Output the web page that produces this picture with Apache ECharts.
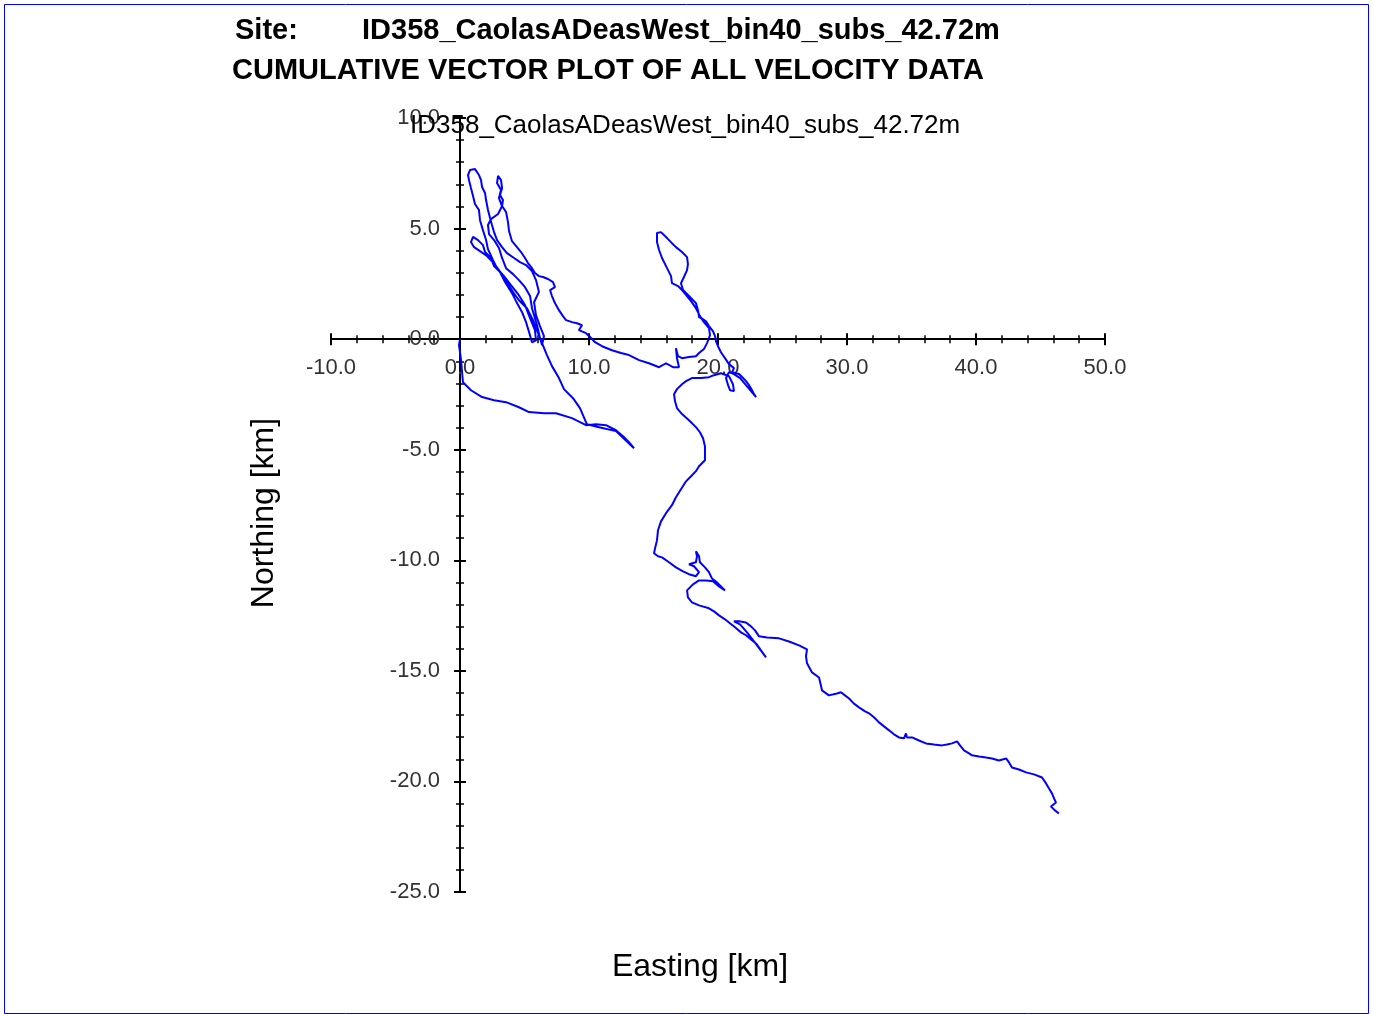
<!DOCTYPE html>
<html>
<head>
<meta charset="utf-8">
<script src="https://cdn.jsdelivr.net/npm/echarts@6/dist/echarts.min.js"></script>
<style>
html,body{margin:0;padding:0;background:#fff;}
#chart{width:1374px;height:1014px;}
</style>
</head>
<body>
<div id="chart"></div>
<script>
// ---- Text ----
const siteLabel = 'Site:';
const siteName = 'ID358_CaolasADeasWest_bin40_subs_42.72m';
const plotTitle = 'CUMULATIVE VECTOR PLOT OF ALL VELOCITY DATA';
const xAxisName = 'Easting [km]';
const yAxisName = 'Northing [km]';

// ---- Axis ranges / ticks (km) ----
const xRange = [-10, 50], xStep = 10;
const yRange = [-25, 10], yStep = 5;

// ---- Cumulative track, [easting km, northing km], in time order ----
const trackLeg1 = [[0,0],[-0.08,-0.27],[0,-0.59],[0.08,-0.95],[0.16,-1.49],[0.23,-1.95],[0.85,-2.31],[1.71,-2.62],[2.64,-2.76],[3.57,-2.85],[4.57,-3.08],[5.35,-3.30],[6.51,-3.35],[7.44,-3.35],[8.68,-3.57],[9.77,-3.89],[10.54,-3.85],[11.32,-3.89],[12.09,-4.12],[12.64,-4.39],[13.10,-4.66],[13.49,-4.93]];
const trackLeg2 = [[12.09,-4.16],[10.78,-3.98],[9.84,-3.85],[9.30,-3.12],[8.76,-2.67],[8.06,-2.26],[7.67,-1.76],[7.13,-1.22],[6.74,-0.72],[6.36,-0.18],[6.05,0.27],[5.66,0.86],[5.19,1.40],[4.57,1.76],[4.11,2.13],[3.57,2.62],[3.02,3.12],[2.56,3.48],[2.09,3.76],[1.55,3.98],[1.09,4.16],[0.85,4.39],[1.01,4.62]];
const trackLeg3 = [[1.40,4.48],[1.78,4.25],[1.94,3.94],[2.40,3.67],[2.64,3.30],[3.10,3.03],[3.49,2.58],[4.03,2.08],[4.42,1.63],[4.81,1.22],[5.12,0.77],[5.35,0.32],[5.58,-0.14]];
const trackLeg4 = [[5.89,-0.05],[5.81,0.41],[5.43,0.95],[5.04,1.54],[4.50,2.04],[3.95,2.44],[3.41,2.85],[2.87,3.21],[2.56,3.57],[2.17,4.07],[2.02,4.48],[1.78,4.93],[1.55,5.38],[1.47,5.84],[1.16,6.11],[1.01,6.47],[0.85,6.83],[0.70,7.19],[0.62,7.42],[0.78,7.65]];
const trackLeg5 = [[1.16,7.69],[1.47,7.42],[1.63,7.19],[1.71,6.88],[1.94,6.61],[2.02,6.29],[2.17,5.84],[2.33,5.48],[2.48,5.16],[2.64,4.84],[2.87,4.48],[3.26,4.16],[3.64,3.89],[4.19,3.67],[4.65,3.48],[5.12,3.35],[5.58,3.08],[5.89,2.67],[6.12,2.13],[5.74,1.67],[5.89,1.09],[6.20,0.59],[6.51,0.14],[6.36,-0.27]];
const trackLeg6 = [[6.20,0.05],[5.97,0.63],[5.58,1.40],[5.43,1.95],[5.04,2.35],[4.57,2.67],[4.11,2.94],[3.57,3.21],[3.26,3.67],[3.02,4.12],[2.64,4.48],[2.25,4.75],[2.17,5.16],[2.40,5.43],[2.95,5.66],[3.26,6.02],[3.02,6.38],[3.18,6.74],[2.87,7.06],[2.95,7.38]];
const trackLeg7 = [[3.18,7.19],[3.26,6.83],[3.10,6.52],[3.33,6.29],[3.26,6.02],[3.57,5.75],[3.72,5.29],[3.80,4.89],[4.03,4.43],[4.42,4.16],[4.73,3.94],[5.04,3.67],[5.27,3.44],[5.58,3.21],[5.81,2.99],[6.12,2.85],[6.43,2.81],[6.82,2.72],[7.21,2.58],[7.36,2.35],[6.98,2.22],[7.13,1.95],[7.36,1.63],[7.67,1.31],[7.98,1.04],[8.22,0.86],[8.68,0.77],[9.07,0.72],[9.46,0.63],[9.22,0.41],[9.77,0.27],[10.16,0.05],[10.47,-0.14],[11.01,-0.32],[11.78,-0.50],[12.48,-0.63],[13.10,-0.72],[13.88,-0.95],[14.65,-1.09],[15.43,-1.27],[15.97,-1.09],[16.51,-1.27],[16.98,-1.27],[16.82,-0.86],[16.74,-0.41],[16.90,-0.77],[17.21,-0.86],[17.75,-0.81],[18.29,-0.77],[18.53,-0.63],[18.91,-0.45],[19.15,-0.18],[19.38,0.18],[19.30,0.50],[18.91,0.77],[18.60,1.04],[18.29,1.40],[17.91,1.72],[17.60,1.95],[17.21,2.22],[16.90,2.40],[16.43,2.53],[16.36,2.85],[16.05,3.21],[15.66,3.67],[15.43,4.03],[15.27,4.39],[15.27,4.80],[15.58,4.84],[16.05,4.57],[16.43,4.34],[16.74,4.16],[17.21,3.94],[17.60,3.71],[17.67,3.39],[17.60,3.12],[17.36,2.81],[17.13,2.53],[17.29,2.22],[17.75,1.95],[18.29,1.63],[18.45,1.31],[18.53,1.00],[18.84,0.90],[19.07,0.81],[19.30,0.59],[19.61,0.36],[19.77,0.14],[19.84,-0.09],[20.00,-0.32],[20.23,-0.59],[20.54,-0.86],[20.85,-1.13],[21.24,-1.31],[21.09,-1.49],[21.63,-1.58],[21.94,-1.76],[22.17,-1.90],[22.40,-2.08],[22.64,-2.31],[22.79,-2.49],[22.95,-2.62]];
const trackLeg8 = [[22.56,-2.35],[22.17,-2.08],[21.71,-1.76],[21.24,-1.58],[20.85,-1.49],[20.62,-1.76],[20.78,-2.08],[20.93,-2.31],[21.24,-2.35],[21.16,-2.04],[20.85,-1.67],[20.23,-1.54],[19.69,-1.63],[19.30,-1.72],[18.68,-1.76],[17.98,-1.76],[17.52,-1.90],[17.21,-2.04],[16.82,-2.26],[16.59,-2.49],[16.67,-2.81],[16.82,-3.12],[17.21,-3.39],[17.75,-3.67],[18.29,-3.98],[18.60,-4.21],[18.84,-4.48],[18.99,-4.84],[18.99,-5.25],[18.99,-5.48],[18.53,-5.75],[18.29,-5.97],[17.91,-6.20],[17.52,-6.43],[17.13,-6.79],[16.74,-7.15],[16.43,-7.51],[15.97,-7.87],[15.58,-8.24],[15.35,-8.64],[15.27,-9.10],[15.12,-9.46],[15.04,-9.68],[15.35,-9.82],[15.66,-9.87],[16.20,-10.09],[16.74,-10.32],[17.29,-10.50],[17.75,-10.63],[18.29,-10.72],[18.53,-10.54],[18.14,-10.27],[17.75,-10.18],[18.29,-10.09],[18.37,-9.82],[18.29,-9.59],[18.53,-9.82],[18.60,-10.09],[18.99,-10.32],[19.30,-10.54],[19.53,-10.82],[19.92,-11.00],[20.23,-11.18],[20.54,-11.36]];
const trackLeg9 = [[20.08,-11.18],[19.61,-10.95],[19.07,-10.91],[18.53,-10.91],[18.06,-11.09],[17.60,-11.36],[17.67,-11.68],[17.98,-11.90],[18.53,-12.04],[19.30,-12.17],[19.69,-12.31],[20.08,-12.49],[20.54,-12.67],[20.85,-12.81],[21.32,-13.03],[21.78,-13.26],[22.17,-13.39],[22.56,-13.58],[22.95,-13.76],[23.33,-14.07],[23.72,-14.39]];
const trackLeg10 = [[23.26,-14.03],[22.79,-13.67],[22.25,-13.26],[21.71,-12.90],[21.24,-12.76],[21.63,-12.76],[22.17,-12.81],[22.56,-12.99],[22.87,-13.17],[23.18,-13.44],[23.80,-13.49],[24.73,-13.53],[25.50,-13.67],[26.28,-13.85],[26.90,-14.03],[26.82,-14.34],[26.90,-14.66],[27.29,-15.07],[27.83,-15.30],[27.98,-15.66],[28.06,-15.88],[28.60,-16.11],[29.22,-16.02],[29.53,-15.97],[29.84,-16.11],[30.16,-16.25],[30.54,-16.48],[30.93,-16.65],[31.40,-16.83],[31.71,-16.92],[32.09,-17.10],[32.48,-17.33],[32.87,-17.51],[33.26,-17.69],[33.64,-17.87],[34.03,-18.01],[34.42,-18.05],[34.57,-17.83],[34.65,-18.01],[35.04,-18.01],[35.58,-18.15],[36.12,-18.28],[36.74,-18.33],[37.36,-18.37],[37.75,-18.33],[38.14,-18.28],[38.53,-18.19],[38.76,-18.37],[39.07,-18.60],[39.46,-18.73],[39.69,-18.82],[40.23,-18.87],[40.78,-18.92],[41.24,-18.96],[41.78,-19.05],[42.33,-18.96],[42.56,-19.14],[42.79,-19.37],[43.33,-19.46],[43.88,-19.59],[44.50,-19.68],[45.12,-19.82],[45.43,-20.09],[45.66,-20.32],[45.89,-20.54],[46.05,-20.77],[46.20,-20.95],[45.81,-21.13],[46.12,-21.31],[46.43,-21.45]];

const track = [].concat(trackLeg1, trackLeg2, trackLeg3, trackLeg4, trackLeg5, trackLeg6, trackLeg7, trackLeg8, trackLeg9, trackLeg10);

// ---- Layout ----
const GRID = {left:331, top:118, width:774, height:774};
// pixel offset that places each axis on the other axis' zero
const xAxisShift = -GRID.height * (0 - yRange[0]) / (yRange[1] - yRange[0]);
const yAxisShift = -GRID.width * (0 - xRange[0]) / (xRange[1] - xRange[0]);

const FONT = '"Liberation Sans", Arial, sans-serif';
const fmt = v => v.toFixed(1);
const tickLine = {color:'#000', width:2};
const minorLine = {color:'#000', width:1.5};

function makeAxis(range, step, inside, showLabel, pos, shift) {
  return {
    type:'value', min:range[0], max:range[1], interval:step, position:pos, offset:shift,
    axisLine:{show:true, onZero:false, lineStyle:{color:'#000', width:2}},
    axisTick:{show:true, inside:inside, length:6, lineStyle:tickLine},
    minorTick:{show:true, splitNumber:5, length:4, lineStyle:minorLine},
    splitLine:{show:false}, minorSplitLine:{show:false},
    axisLabel:{show:showLabel, formatter:fmt, fontSize:22, color:'#333', fontFamily:FONT, margin:pos === 'left' ? 20 : 18}
  };
}

const chart = echarts.init(document.getElementById('chart'), null, {renderer:'canvas'});
chart.setOption({
  animation:false,
  backgroundColor:'#fff',
  grid:Object.assign({containLabel:false}, GRID),
  xAxis:[makeAxis(xRange, xStep, false, true, 'bottom', xAxisShift), makeAxis(xRange, xStep, true, false, 'bottom', xAxisShift)],
  yAxis:[makeAxis(yRange, yStep, false, true, 'left', yAxisShift), makeAxis(yRange, yStep, true, false, 'left', yAxisShift)],
  series:[{
    type:'line', xAxisIndex:0, yAxisIndex:0, data:track,
    showSymbol:false, symbol:'none',
    lineStyle:{color:'#0000ff', width:2}, z:5
  }],
  graphic:[
    {type:'rect', silent:true, shape:{x:4.5, y:4.5, width:1364, height:1009}, style:{fill:'none', stroke:'#0000ff', lineWidth:1}, z:100},
    {type:'text', x:235, y:31, style:{text:siteLabel, font:'bold 29px ' + FONT, fill:'#000', textVerticalAlign:'middle'}},
    {type:'text', x:362, y:31, style:{text:siteName, font:'bold 29px ' + FONT, fill:'#000', textVerticalAlign:'middle'}},
    {type:'text', x:232, y:71, style:{text:plotTitle, font:'bold 29px ' + FONT, fill:'#000', textVerticalAlign:'middle'}},
    {type:'text', x:410, y:126, style:{text:siteName, font:'26px ' + FONT, fill:'#000', textVerticalAlign:'middle'}, z:50},
    {type:'text', x:700, y:967, style:{text:xAxisName, font:'32px ' + FONT, fill:'#000', textAlign:'center', textVerticalAlign:'middle'}},
    {type:'text', x:264, y:513, rotation:Math.PI/2, style:{text:yAxisName, font:'32px ' + FONT, fill:'#000', textAlign:'center', textVerticalAlign:'middle'}}
  ]
});
</script>
</body>
</html>
